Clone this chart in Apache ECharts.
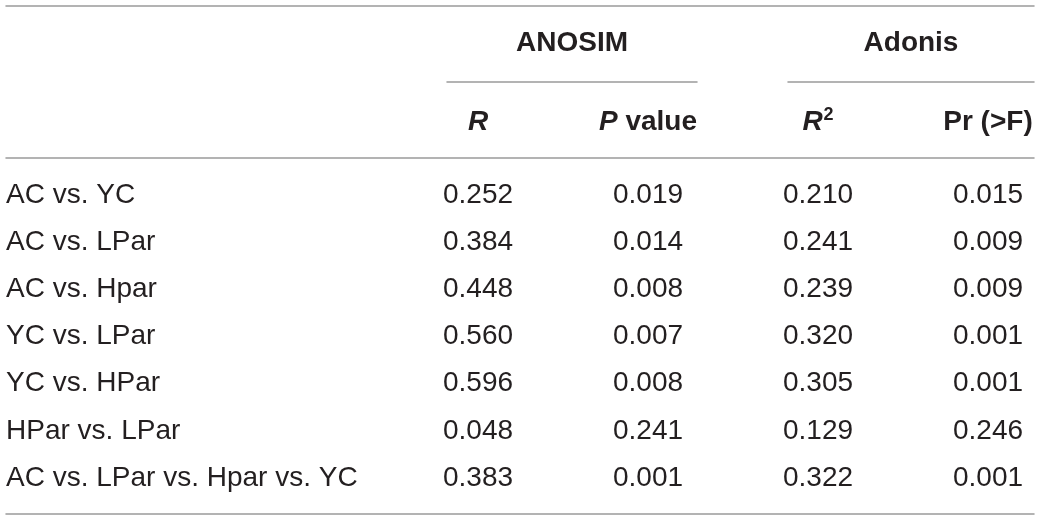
<!DOCTYPE html>
<html>
<head>
<meta charset="utf-8">
<script src="https://cdn.jsdelivr.net/npm/echarts@6/dist/echarts.min.js"></script>
<style>
  html, body { margin: 0; padding: 0; background: #fff; }
  #main { width: 1040px; height: 519px; }
</style>
</head>
<body>
<div id="main"></div>
<script>
// table content
const comparisons = [
  "AC vs. YC",
  "AC vs. LPar",
  "AC vs. Hpar",
  "YC vs. LPar",
  "YC vs. HPar",
  "HPar vs. LPar",
  "AC vs. LPar vs. Hpar vs. YC"
];
const columns = ["R", "P value", "R2", "Pr (>F)"];
const groups = ["ANOSIM", "Adonis"];

const anosimR = [0.252, 0.384, 0.448, 0.560, 0.596, 0.048, 0.383];
const anosimP = [0.019, 0.014, 0.008, 0.007, 0.008, 0.241, 0.001];
const adonisR2 = [0.210, 0.241, 0.239, 0.320, 0.305, 0.129, 0.322];
const adonisPr = [0.015, 0.009, 0.009, 0.001, 0.001, 0.246, 0.001];

const valueCols = [anosimR, anosimP, adonisR2, adonisPr];

let font = "'Liberation Sans', Arial, Helvetica, sans-serif";
let textColor = "#231f20";
let ruleColor = "#9a9a9a";

// rich styles for the column headers
let headRich = {
  b: { fontFamily: font, fontSize: 28, fontWeight: "bold", color: textColor },
  bi: { fontFamily: font, fontSize: 28, fontWeight: "bold", fontStyle: "italic", color: textColor },
  sup: { fontFamily: font, fontSize: 18, fontWeight: "bold", color: textColor, verticalAlign: "top", padding: [0, 0, 14, 1] }
};
let headFormat = {
  "R": "{bi|R}",
  "P value": "{bi|P}{b| value}",
  "R2": "{bi|R}{sup|2}",
  "Pr (>F)": "{b|Pr (>F)}"
};

let hidden = { show: false };
let ruleLine = { show: true, onZero: false, lineStyle: { color: ruleColor, width: 1.5 } };

let cellSeries = valueCols.map((col, c) => ({
  type: "scatter",
  xAxisIndex: 0,
  yAxisIndex: 0,
  symbolSize: 1,
  itemStyle: { color: "transparent", opacity: 1 },
  silent: true,
  label: {
    show: true,
    position: "inside",
    fontFamily: font,
    fontSize: 28,
    color: textColor,
    formatter: (p) => p.value[2].toFixed(3)
  },
  data: col.map((v, r) => [columns[c], comparisons[r], v])
}));

let option = {
  backgroundColor: "#fff",
  animation: false,
  grid: [
    // body cells
    { left: 478, right: 52, top: 171.5, bottom: 17.5 },
    // frame: top rule + header rule
    { left: 6, right: 6, top: 6, height: 152 },
    // frame: bottom rule
    { left: 6, right: 6, top: 158, bottom: 5 },
    // group headers with their underlines
    { left: 447, width: 250, top: 82, height: 10 },
    { left: 788, width: 246, top: 82, height: 10 }
  ],
  xAxis: [
    {
      gridIndex: 0,
      type: "category",
      position: "top",
      data: columns,
      boundaryGap: false,
      axisLine: hidden,
      axisTick: hidden,
      splitLine: hidden,
      axisLabel: {
        interval: 0,
        margin: 49.5,
        verticalAlign: "middle",
        formatter: (v) => headFormat[v],
        rich: headRich
      }
    },
    { gridIndex: 1, type: "value", position: "top", axisLine: ruleLine, axisTick: hidden, axisLabel: hidden, splitLine: hidden },
    { gridIndex: 1, type: "value", position: "bottom", axisLine: ruleLine, axisTick: hidden, axisLabel: hidden, splitLine: hidden },
    { gridIndex: 2, type: "value", position: "bottom", axisLine: ruleLine, axisTick: hidden, axisLabel: hidden, splitLine: hidden },
    {
      gridIndex: 3,
      type: "category",
      position: "top",
      data: [groups[0]],
      axisLine: ruleLine,
      axisTick: hidden,
      axisLabel: {
        margin: 39,
        verticalAlign: "middle",
        fontFamily: font,
        fontSize: 28,
        fontWeight: "bold",
        color: textColor
      }
    },
    {
      gridIndex: 4,
      type: "category",
      position: "top",
      data: [groups[1]],
      axisLine: ruleLine,
      axisTick: hidden,
      axisLabel: {
        margin: 39,
        verticalAlign: "middle",
        fontFamily: font,
        fontSize: 28,
        fontWeight: "bold",
        color: textColor
      }
    }
  ],
  yAxis: [
    {
      gridIndex: 0,
      type: "category",
      inverse: true,
      data: comparisons,
      axisLine: hidden,
      axisTick: hidden,
      splitLine: hidden,
      axisLabel: {
        interval: 0,
        align: "left",
        margin: 472,
        fontFamily: font,
        fontSize: 28,
        color: textColor
      }
    },
    { gridIndex: 1, type: "value", show: false },
    { gridIndex: 2, type: "value", show: false },
    { gridIndex: 3, type: "value", show: false },
    { gridIndex: 4, type: "value", show: false }
  ],
  series: cellSeries
};

var myChart = echarts.init(document.getElementById("main"));
myChart.setOption(option);
</script>
</body>
</html>
